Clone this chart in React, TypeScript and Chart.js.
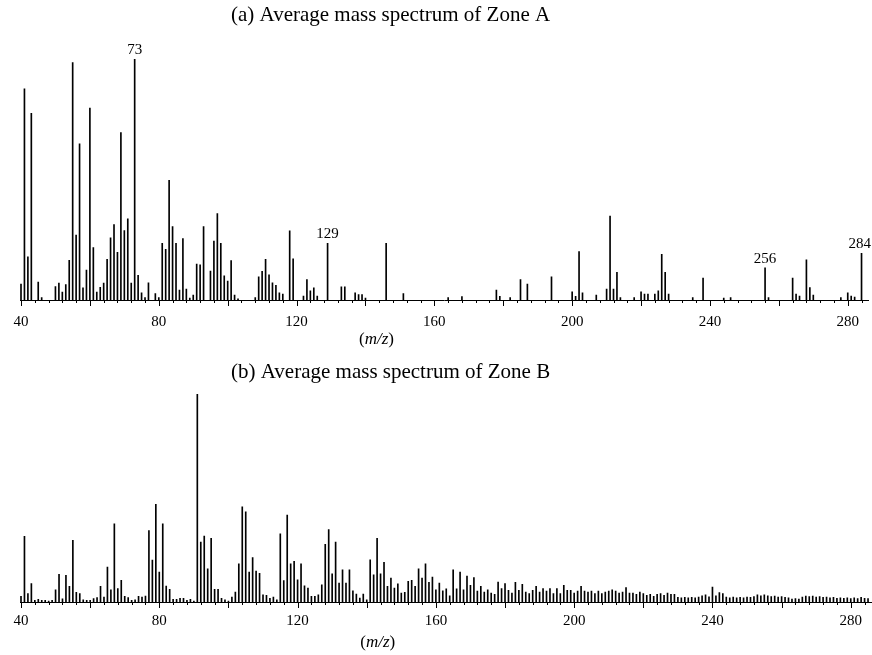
import React, { useEffect, useRef } from "react";
import { Chart, registerables } from "chart.js";

Chart.register(...registerables);

const FONT = "'Liberation Serif', 'Times New Roman', serif";

// ---------- data (relative intensity, %) ----------
const titleA = "(a) Average mass spectrum of Zone A";
const titleB = "(b) Average mass spectrum of Zone B";
const tickLabels = [40, 80, 120, 160, 200, 240, 280];
const labeledPeaksA = [73, 129, 256, 284];

const massA = [
  40, 41, 42, 43, 45, 46, 50, 51, 52, 53, 54, 55, 56, 57, 58, 59, 60, 61, 62, 63,
  64, 65, 66, 67, 68, 69, 70, 71, 72, 73, 74, 75, 76, 77, 79, 80, 81, 82, 83, 84,
  85, 86, 87, 88, 89, 90, 91, 92, 93, 95, 96, 97, 98, 99, 100, 101, 102, 103, 108, 109,
  110, 111, 112, 113, 114, 115, 116, 118, 119, 122, 123, 124, 125, 126, 129, 133, 134, 137, 138, 139,
  140, 146, 151, 164, 168, 178, 179, 182, 185, 187, 194, 200, 201, 202, 203, 207, 210, 211, 212, 213,
  214, 218, 220, 221, 222, 224, 225, 226, 227, 228, 235, 238, 244, 246, 256, 257, 264, 265, 266, 268,
  269, 270, 278, 280, 281, 282, 284,
];
const relA = [
  6.6, 87.6, 17.9, 77.5, 7.4, 1, 5.6, 7, 3.3, 6.4, 16.5, 98.5, 26.9, 64.8, 5, 12.4, 79.6, 21.7, 3.3, 5.3,
  7, 16.9, 25.8, 31.3, 19.8, 69.5, 28.8, 33.7, 7, 100, 10.2, 3, 1, 7.1, 2.7, 1, 23.5, 21, 49.7, 30.5,
  23.5, 4.1, 25.5, 4.5, 0.8, 2, 14.9, 14.6, 30.5, 12, 24.5, 35.9, 23.5, 10, 7.9, 16.4, 2, 0.5, 1, 9.6,
  11.9, 16.9, 10.4, 7.1, 6.1, 3, 2.5, 28.7, 17.1, 1.6, 8.5, 3.8, 5, 1.6, 23.5, 5.5, 5.5, 3, 2.2, 2.2,
  0.8, 23.5, 2.7, 1, 1.4, 4.1, 1.5, 1, 8.5, 6.6, 9.6, 3.4, 1.5, 20.1, 3, 2, 4.5, 34.8, 4.5, 11.5,
  1, 1, 3.4, 2.5, 2.5, 2.5, 3.8, 18.9, 11.5, 2.5, 1, 9.1, 0.8, 1, 13.4, 1, 9.1, 2.5, 1.6, 16.7,
  5.2, 2, 1, 3, 1.6, 1.2, 19.4,
];

const massB = [
  40, 41, 42, 43, 44, 45, 46, 47, 48, 49, 50, 51, 52, 53, 54, 55, 56, 57, 58, 59,
  60, 61, 62, 63, 64, 65, 66, 67, 68, 69, 70, 71, 72, 73, 74, 75, 76, 77, 78, 79,
  80, 81, 82, 83, 84, 85, 86, 87, 88, 89, 90, 91, 92, 93, 94, 95, 96, 97, 98, 99,
  100, 101, 102, 103, 104, 105, 106, 107, 108, 109, 110, 111, 112, 113, 114, 115, 116, 117, 118, 119,
  120, 121, 122, 123, 124, 125, 126, 127, 128, 129, 130, 131, 132, 133, 134, 135, 136, 137, 138, 139,
  140, 141, 142, 143, 144, 145, 146, 147, 148, 149, 150, 151, 152, 153, 154, 155, 156, 157, 158, 159,
  160, 161, 162, 163, 164, 165, 166, 167, 168, 169, 170, 171, 172, 173, 174, 175, 176, 177, 178, 179,
  180, 181, 182, 183, 184, 185, 186, 187, 188, 189, 190, 191, 192, 193, 194, 195, 196, 197, 198, 199,
  200, 201, 202, 203, 204, 205, 206, 207, 208, 209, 210, 211, 212, 213, 214, 215, 216, 217, 218, 219,
  220, 221, 222, 223, 224, 225, 226, 227, 228, 229, 230, 231, 232, 233, 234, 235, 236, 237, 238, 239,
  240, 241, 242, 243, 244, 245, 246, 247, 248, 249, 250, 251, 252, 253, 254, 255, 256, 257, 258, 259,
  260, 261, 262, 263, 264, 265, 266, 267, 268, 269, 270, 271, 272, 273, 274, 275, 276, 277, 278, 279,
  280, 281, 282, 283, 284, 285,
];
const relB = [
  2.7, 31.6, 4, 8.8, 0.8, 1.3, 0.8, 0.8, 0.5, 0.8, 5.9, 13.3, 1.5, 12.8, 7.5, 29.7, 4.6, 4, 1, 0.8,
  0.8, 1.6, 2.1, 7.5, 2.4, 16.8, 5.9, 37.6, 6.4, 10.4, 2.7, 2.1, 0.8, 1, 2.7, 2.4, 2.9, 34.3, 20.2, 47,
  14.4, 37.6, 7.7, 6.1, 1.3, 1.3, 1.8, 1.8, 0.8, 1.3, 0.5, 100, 28.8, 31.7, 16, 30.6, 6.1, 6.1, 1.8, 1,
  0.5, 2.4, 4.8, 18.4, 45.7, 43.3, 14.4, 21.3, 14.9, 13.8, 3.4, 3.2, 1.8, 2.4, 1, 32.8, 10.3, 41.8, 18.4, 19.6,
  10.7, 18.4, 7.8, 6.7, 2.7, 2.7, 3.4, 8.3, 27.7, 34.8, 13.6, 28.8, 9.1, 15.5, 9.1, 15.5, 5.4, 3.8, 1.9, 3.8,
  1, 20.3, 13.1, 30.6, 13.6, 19.1, 7.5, 11.5, 6.7, 8.7, 4.3, 4.7, 9.9, 10.4, 7.5, 16, 11.5, 18.4, 9.5, 12,
  5.9, 9.1, 5.4, 6.3, 3, 15.5, 6.3, 14.4, 5.8, 12.5, 8, 11.7, 5.3, 7.5, 4.8, 5.9, 4.3, 3.7, 9.6, 6.4,
  8.8, 5.6, 4.3, 9.5, 5.6, 8.5, 4.8, 4, 5.6, 7.5, 4.8, 6.4, 5.3, 6.4, 4, 6.4, 4, 8, 5.6, 5.6,
  4.3, 5.3, 7.5, 5.3, 4.8, 5.3, 4, 5.3, 4, 4.8, 5.3, 5.9, 5.3, 4.3, 4.8, 6.9, 4.3, 4.3, 3.7, 4.8,
  4, 3.2, 3.7, 2.7, 3.7, 4, 3.2, 4.3, 3.7, 3.7, 2.2, 2, 2.2, 2, 2.2, 2, 2.4, 3, 3.5, 2.5,
  7.2, 3, 4.5, 4, 2.4, 2, 2.4, 2, 2.2, 2, 2.4, 2.2, 2.6, 3.4, 3, 3.4, 3, 2.6, 2.8, 2.4,
  2.6, 2.2, 2, 1.4, 1.6, 1.4, 2.4, 2.8, 2.6, 2.8, 2.4, 2.6, 2.2, 2.4, 2, 2.2, 1.8, 2, 1.8, 2,
  1.6, 2, 1.6, 2.2, 1.8, 1.6,
];

// ---------- plugins ----------
const minorTicksPlugin = {
  id: "minorTicks",
  afterDraw(chart: any) {
    const xs = chart.scales.x;
    const ctx = chart.ctx;
    const y0 = chart.chartArea.bottom;
    ctx.save();
    ctx.strokeStyle = "#000";
    ctx.lineWidth = 1;
    for (let v = 40; v <= 284; v += 4) {
      const px = Math.round(xs.getPixelForValue(v)) + 0.5;
      const len = v % 20 === 0 ? 6 : 3;
      ctx.beginPath();
      ctx.moveTo(px, y0);
      ctx.lineTo(px, y0 + len);
      ctx.stroke();
    }
    ctx.restore();
  },
};

const textPlugin = {
  id: "panelText",
  afterDraw(chart: any, _args: any, opts: any) {
    const ctx = chart.ctx;
    const area = chart.chartArea;
    ctx.save();
    ctx.fillStyle = "#000";
    // panel title
    ctx.font = `${opts.titleSize}px ${FONT}`;
    ctx.textAlign = "left";
    ctx.textBaseline = "middle";
    ctx.fillText(opts.title, opts.titleX, opts.titleY);
    // axis title (m/z) with italic m/z
    const size = 17;
    const parts = [
      { t: "(", f: `${size}px ${FONT}` },
      { t: "m/z", f: `italic ${size}px ${FONT}` },
      { t: ")", f: `${size}px ${FONT}` },
    ];
    let total = 0;
    parts.forEach((p) => {
      ctx.font = p.f;
      total += ctx.measureText(p.t).width;
    });
    let x = area.left + area.width * 0.42 - total / 2;
    const y = area.bottom + opts.axisTitleOffset;
    parts.forEach((p) => {
      ctx.font = p.f;
      ctx.fillText(p.t, x, y);
      x += ctx.measureText(p.t).width;
    });
    // peak labels
    if (opts.peaks && opts.peaks.length) {
      const xs = chart.scales.x;
      const ys = chart.scales.y;
      const ds = chart.data.datasets[0].data;
      ctx.font = `15px ${FONT}`;
      ctx.textAlign = "center";
      ctx.textBaseline = "alphabetic";
      opts.peaks.forEach((m: number) => {
        const pt = ds.find((d: any) => d.x === m);
        if (!pt) return;
        const label = String(m);
        const w = ctx.measureText(label).width;
        let px = xs.getPixelForValue(m);
        px = Math.min(px, chart.width - w / 2 - 1);
        const py = ys.getPixelForValue(pt.y) - 5;
        ctx.fillText(label, px, py);
      });
    }
    ctx.restore();
  },
};

function makeChart(
  canvas: HTMLCanvasElement,
  mass: number[],
  rel: number[],
  panel: {
    title: string;
    titleY: number;
    padTop: number;
    padBottom: number;
    tickPad: number;
    axisTitleOffset: number;
    peaks: number[];
  }
) {
  return new Chart(canvas, {
    type: "bar",
    data: {
      datasets: [
        {
          data: mass.map((m, i) => ({ x: m, y: rel[i] })),
          backgroundColor: "#000",
          borderWidth: 0,
          barThickness: 1,
        },
      ],
    },
    options: {
      animation: false,
      responsive: false,
      devicePixelRatio: 1,
      layout: {
        padding: { left: 20, right: 0, top: panel.padTop, bottom: panel.padBottom },
      },
      plugins: {
        legend: { display: false },
        tooltip: { enabled: false },
        title: { display: false },
        panelText: {
          title: panel.title,
          titleX: 231,
          titleY: panel.titleY,
          titleSize: 21,
          axisTitleOffset: panel.axisTitleOffset,
          peaks: panel.peaks,
        },
      } as any,
      scales: {
        x: {
          type: "linear",
          min: 39.71,
          max: 286.1,
          offset: false,
          grid: { display: false, drawTicks: false },
          border: { display: true, color: "#000", width: 1 },
          afterBuildTicks: (scale: any) => {
            scale.ticks = tickLabels.map((v) => ({ value: v }));
          },
          ticks: {
            color: "#000",
            autoSkip: false,
            maxRotation: 0,
            padding: panel.tickPad,
            font: { family: FONT, size: 15 },
            callback: (v: any) => String(v),
          },
        },
        y: {
          type: "linear",
          display: false,
          min: 0,
          max: 100,
        },
      },
    },
    plugins: [minorTicksPlugin, textPlugin],
  } as any);
}

export default function App() {
  const refA = useRef<HTMLCanvasElement>(null);
  const refB = useRef<HTMLCanvasElement>(null);

  useEffect(() => {
    const a = makeChart(refA.current!, massA, relA, {
      title: titleA,
      titleY: 15,
      padTop: 59,
      padBottom: 6,
      tickPad: 13,
      axisTitleOffset: 40,
      peaks: labeledPeaksA,
    });
    const b = makeChart(refB.current!, massB, relB, {
      title: titleB,
      titleY: 22,
      padTop: 44,
      padBottom: 15,
      tickPad: 10,
      axisTitleOffset: 41,
      peaks: [],
    });
    return () => {
      a.destroy();
      b.destroy();
    };
  }, []);

  return (
    <div
      style={{
        position: "absolute",
        left: 0,
        top: 0,
        width: 872,
        height: 655,
        background: "#fff",
      }}
    >
      <canvas
        ref={refA}
        width={872}
        height={350}
        style={{ position: "absolute", left: 0, top: 0, width: 872, height: 350 }}
      />
      <canvas
        ref={refB}
        width={872}
        height={305}
        style={{ position: "absolute", left: 0, top: 350, width: 872, height: 305 }}
      />
    </div>
  );
}
